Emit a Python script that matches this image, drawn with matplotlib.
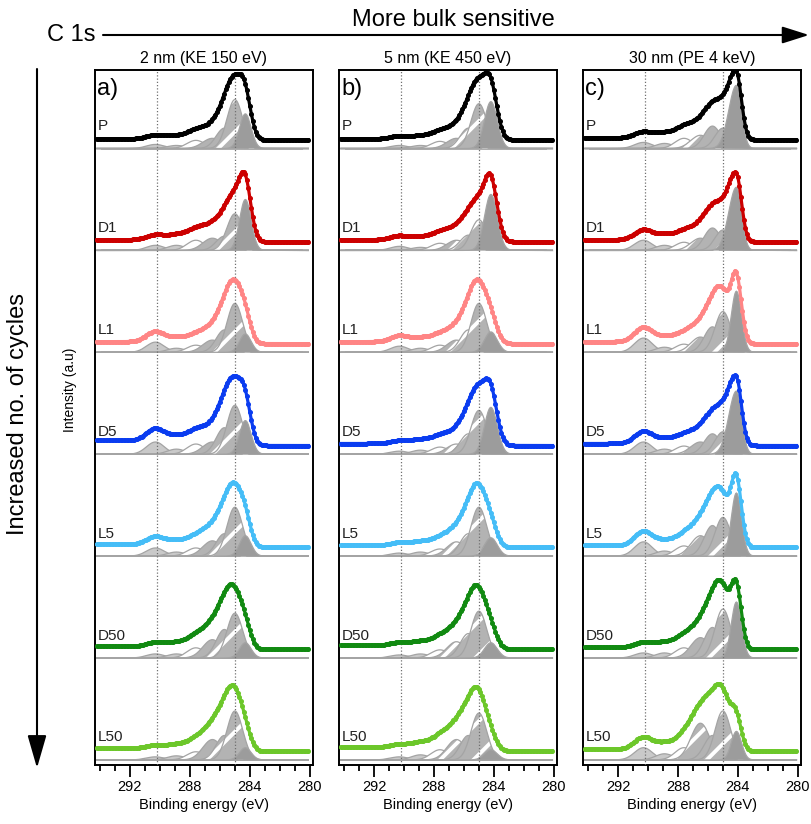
import numpy as np
import matplotlib
matplotlib.use("Agg")
import matplotlib.pyplot as plt
from matplotlib.patches import FancyArrowPatch
from matplotlib.ticker import MultipleLocator

plt.rcParams["font.family"] = ["Liberation Sans", "DejaVu Sans"]
plt.rcParams["hatch.linewidth"] = 2.8
plt.rcParams["hatch.color"] = "white"

SAMPLES = ["P", "D1", "L1", "D5", "L5", "D50", "L50"]
COLORS = ["#000000", "#cc0000", "#ff8585", "#0a3cf0", "#45bdf7", "#118a11", "#6cc72a"]
TITLES = ["2 nm (KE 150 eV)", "5 nm (KE 450 eV)", "30 nm (PE 4 keV)"]
TAGS = ["a)", "b)", "c)"]

# fitted C 1s components: position (eV) and FWHM (eV)
CENTERS = [290.3, 288.9, 287.6, 286.5, 285.7, 285.0]
FWHM = [1.4, 1.4, 1.4, 1.5, 1.3, 1.25]
SP2_CENTER = [284.3, 284.2, 284.1]
SP2_FWHM = [0.9, 1.0, 0.8]
MARKERS_EV = [290.2, 285.0]

# component heights per sample, columns: 290.3, 288.9, 287.6, 286.5, 285.7, 285.0, sp2
HEIGHTS_2NM = [
    [0.04, 0.03, 0.08, 0.10, 0.20, 0.48, 0.34],
    [0.05, 0.05, 0.10, 0.12, 0.14, 0.36, 0.50],
    [0.10, 0.04, 0.07, 0.12, 0.22, 0.48, 0.18],
    [0.12, 0.05, 0.10, 0.12, 0.26, 0.48, 0.33],
    [0.08, 0.04, 0.08, 0.15, 0.22, 0.48, 0.20],
    [0.04, 0.04, 0.10, 0.18, 0.28, 0.44, 0.15],
    [0.03, 0.04, 0.08, 0.20, 0.24, 0.48, 0.12],
]
HEIGHTS_5NM = [
    [0.03, 0.03, 0.07, 0.10, 0.20, 0.44, 0.46],
    [0.04, 0.03, 0.07, 0.10, 0.15, 0.30, 0.55],
    [0.06, 0.04, 0.07, 0.12, 0.22, 0.48, 0.20],
    [0.03, 0.04, 0.07, 0.10, 0.20, 0.43, 0.46],
    [0.03, 0.04, 0.07, 0.14, 0.22, 0.48, 0.18],
    [0.03, 0.04, 0.08, 0.16, 0.24, 0.46, 0.15],
    [0.03, 0.05, 0.10, 0.20, 0.24, 0.46, 0.10],
]
HEIGHTS_30NM = [
    [0.06, 0.05, 0.10, 0.13, 0.22, 0.20, 0.62],
    [0.10, 0.05, 0.08, 0.12, 0.22, 0.20, 0.62],
    [0.14, 0.05, 0.08, 0.15, 0.25, 0.40, 0.60],
    [0.12, 0.05, 0.08, 0.12, 0.20, 0.22, 0.62],
    [0.14, 0.05, 0.10, 0.20, 0.30, 0.38, 0.62],
    [0.05, 0.05, 0.10, 0.20, 0.30, 0.48, 0.55],
    [0.12, 0.06, 0.12, 0.36, 0.24, 0.48, 0.28],
]
# high-BE side FWHM of the asymmetric sp2 line
SP2_TAIL_2NM = [0.9, 0.9, 0.9, 0.9, 0.9, 0.9, 0.9]
SP2_TAIL_5NM = [1.0, 1.0, 1.0, 1.0, 1.0, 1.0, 1.0]
SP2_TAIL_30NM = [1.2, 1.2, 0.8, 1.2, 0.8, 0.8, 0.8]
# Shirley background step (high-BE side minus low-BE side)
STEP_2NM = [0.01, 0.02, 0.02, 0.05, 0.03, 0.03, 0.03]
STEP_5NM = [0.01, 0.02, 0.02, 0.02, 0.02, 0.04, 0.04]
STEP_30NM = [0.02, 0.02, 0.02, 0.02, 0.02, 0.02, 0.02]

HEIGHTS = [HEIGHTS_2NM, HEIGHTS_5NM, HEIGHTS_30NM]
TAILS = [SP2_TAIL_2NM, SP2_TAIL_5NM, SP2_TAIL_30NM]
STEPS = [STEP_2NM, STEP_5NM, STEP_30NM]

ENV_LIFT = 0.085
LIGHT = "#c9c9c9"
HATCH_FACE = "#b3b3b3"
DARK = "#9c9c9c"
OUTLINE = "#a4a4a4"


def gauss(x, c, w, h):
    return h * np.exp(-4 * np.log(2) * (x - c) ** 2 / w ** 2)


def sp2_line(x, c, w_lo, w_hi, h):
    w = np.where(x < c, w_lo, w_hi)
    return gauss(x, c, w, h)


x = np.arange(280.1, 294.21, 0.05)

fig = plt.figure(figsize=(8.11, 8.24), dpi=100)
lefts = [0.1171, 0.418, 0.7189]

for p in range(3):
    ax = fig.add_axes([lefts[p], 0.0716, 0.2683, 0.8434])
    for i, name in enumerate(SAMPLES):
        base = 6 - i
        hts = HEIGHTS[p][i]
        comps = [gauss(x, c, w, h) for c, w, h in zip(CENTERS, FWHM, hts[:6])]
        sp2 = sp2_line(x, SP2_CENTER[p], SP2_FWHM[p], TAILS[p][i], hts[6])
        total = np.sum(comps, axis=0) + sp2
        bg = STEPS[p][i] * np.cumsum(total) / np.sum(total)
        env = base + ENV_LIFT + total + bg

        gx = (x > 280.5) & (x < 293.9)
        ax.plot(x[gx], np.full(gx.sum(), base), color="#b0b0b0", lw=1.4, zorder=1)

        for k, g in enumerate(comps):
            if k < 2:
                ax.fill_between(x, base, base + g, facecolor=LIGHT, lw=0, zorder=2)
            elif k == 2:
                ax.fill_between(x, base, base + g, facecolor="white", lw=0, zorder=2)
            else:
                ax.fill_between(x, base, base + g, facecolor=HATCH_FACE,
                                edgecolor="white", hatch="/", lw=0, zorder=2)
            ax.plot(x, base + g, color=OUTLINE, lw=0.9, zorder=2)
        ax.fill_between(x, base, base + sp2, facecolor=DARK, lw=0, zorder=2)
        ax.plot(x, base + sp2, color=OUTLINE, lw=0.9, zorder=2)

        ax.plot(x[::2], env[::2], color=COLORS[i], lw=2.3, marker="o", ms=2.6,
                zorder=4)
        ax.text(294.12, base + 0.22, name, fontsize=11, color="#222222",
                ha="left", va="center", zorder=5)

    for m in MARKERS_EV:
        ax.axvline(m, color="#707070", lw=0.9, ls=(0, (1, 1.6)), zorder=3)

    ax.set_xlim(294.33, 279.82)
    ax.set_ylim(-0.05, 6.77)
    ax.set_yticks([])
    ax.set_xticks([292, 288, 284, 280])
    ax.xaxis.set_minor_locator(MultipleLocator(1))
    ax.tick_params(axis="x", which="major", direction="out", length=8.5,
                   width=1.3, labelsize=10.5, pad=2)
    ax.tick_params(axis="x", which="minor", direction="out", length=4.5, width=1.3)
    for s in ax.spines.values():
        s.set_linewidth(1.4)
    ax.set_xlabel("Binding energy (eV)", fontsize=10.5, labelpad=3)
    ax.set_title(TITLES[p], fontsize=11.5, pad=5)
    ax.text(0.01, 0.972, TAGS[p], transform=ax.transAxes, fontsize=17,
            ha="left", va="center")

# sampling-depth arrow along the top
fig.text(47 / 811, 1 - 35 / 824, "C 1s", fontsize=17, ha="left", va="center")
fig.text(453 / 811, 1 - 20 / 824, "More bulk sensitive", fontsize=17,
         ha="center", va="center")
fig.add_artist(FancyArrowPatch((103 / 811, 1 - 35 / 824), (809 / 811, 1 - 35 / 824),
                               transform=fig.transFigure,
                               arrowstyle="-|>,head_length=0.41,head_width=0.13",
                               mutation_scale=40, lw=1.5, color="black",
                               shrinkA=0, shrinkB=0))
# cycling arrow down the side
fig.add_artist(FancyArrowPatch((37 / 811, 1 - 69 / 824), (37 / 811, 1 - 768 / 824),
                               transform=fig.transFigure,
                               arrowstyle="-|>,head_length=0.45,head_width=0.13",
                               mutation_scale=45, lw=1.5, color="black",
                               shrinkA=0, shrinkB=0))
fig.text(18 / 811, 1 - 414 / 824, "Increased no. of cycles", fontsize=17,
         rotation=90, ha="center", va="center")
fig.text(70 / 811, 1 - 390 / 824, "Intensity (a.u)", fontsize=10,
         rotation=90, ha="center", va="center")

fig.savefig("out.png", dpi=100)
